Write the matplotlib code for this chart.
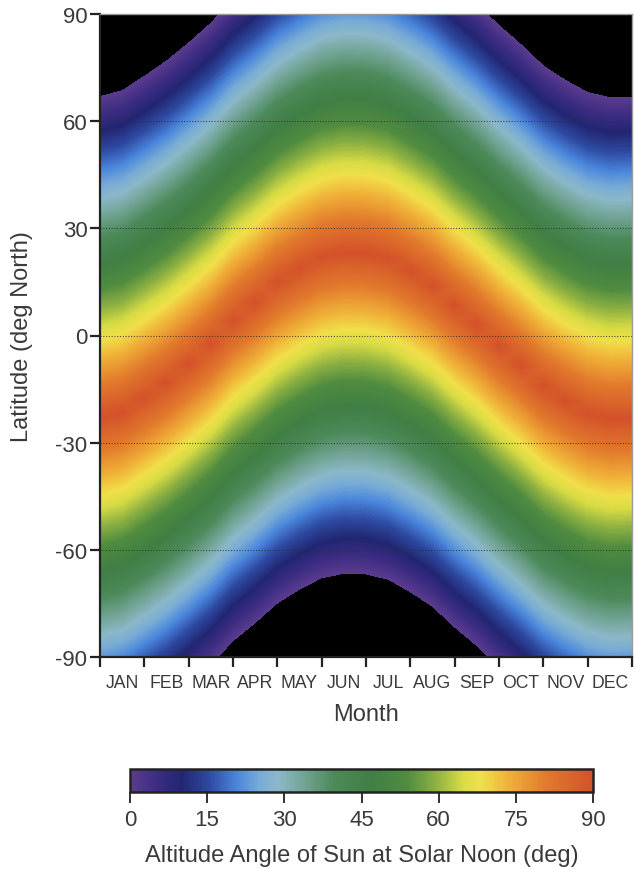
import matplotlib
matplotlib.use("Agg")
import matplotlib.pyplot as plt
import numpy as np
from matplotlib.colors import LinearSegmentedColormap

plt.rcParams['font.family'] = ['Liberation Sans', 'DejaVu Sans']
plt.rcParams['axes.unicode_minus'] = False

month_pos = [0, 0.5, 1, 1.5, 2, 2.5, 3, 3.5, 4, 4.5, 5, 5.5, 6,
             6.5, 7, 7.5, 8, 8.5, 9, 9.5, 10, 10.5, 11, 11.5, 12]
declination = [-23.0, -21.3, -17.3, -13.0, -7.9, -2.4, 4.3, 9.4, 14.9, 18.8, 22.0, 23.3, 23.1,
               21.6, 18.1, 14.0, 8.2, 3.0, -3.0, -8.4, -14.3, -18.4, -21.8, -23.3, -23.1]
latitudes = np.arange(-90, 90.25, 0.25)
months = ['JAN', 'FEB', 'MAR', 'APR', 'MAY', 'JUN', 'JUL', 'AUG', 'SEP', 'OCT', 'NOV', 'DEC']
lat_ticks = [-90, -60, -30, 0, 30, 60, 90]
cbar_ticks = [0, 15, 30, 45, 60, 75, 90]

# noon altitude for each latitude row / date column
altitude = 90 - np.abs(latitudes[:, None] - np.array(declination)[None, :])

cmap = LinearSegmentedColormap.from_list('sun', [
    (0.00, '#5b3c8e'), (0.06, '#3a2c82'), (0.11, '#222672'), (0.17, '#2e4aa2'),
    (0.23, '#4a86dc'), (0.28, '#78acd6'), (0.32, '#8cb8c8'), (0.38, '#6fa290'),
    (0.44, '#4c8a5a'), (0.52, '#407f45'), (0.60, '#508c40'), (0.66, '#8cb042'),
    (0.72, '#d8dc44'), (0.76, '#f0e04a'), (0.82, '#f0b038'), (0.90, '#e27a2c'),
    (1.00, '#d4522a')])
cmap.set_under('black')

fig = plt.figure(figsize=(6.34, 8.7), dpi=100)
ax = fig.add_axes([100 / 634, 1 - 658 / 870, 532 / 634, 643 / 870])

# columns are centred on month_pos, so extend by half a step each side
step = 0.5
im = ax.imshow(altitude, origin='lower', aspect='auto', cmap=cmap, vmin=0, vmax=90,
               extent=[month_pos[0] - step / 2, month_pos[-1] + step / 2, -90.125, 90.125],
               interpolation='bilinear', interpolation_stage='data')
ax.set_xlim(0, 12)
ax.set_ylim(-90, 90)

for lat in [-60, -30, 0, 30, 60]:
    ax.axhline(lat, color='#303030', lw=0.8, ls=(0, (1, 1.5)), alpha=0.8)

txt = '#3a3a3a'
ax.set_yticks(lat_ticks)
ax.set_yticklabels([str(v) for v in lat_ticks], fontsize=16, color=txt)
ax.set_xticks(np.arange(13))
ax.set_xticklabels([])
ax.set_xticks(np.arange(12) + 0.5, minor=True)
ax.set_xticklabels(months, minor=True, fontsize=12.7, color=txt)
ax.tick_params(axis='x', which='minor', length=0, pad=12)
ax.tick_params(axis='x', which='major', length=7, width=1.6, color='#222222')
ax.tick_params(axis='y', length=7, width=1.6, color='#222222', pad=2)
for s in ['left', 'bottom']:
    ax.spines[s].set_linewidth(1.6)
    ax.spines[s].set_color('#222222')
for s in ['top', 'right']:
    ax.spines[s].set_linewidth(1.0)
    ax.spines[s].set_color('#999999')

ax.set_xlabel('Month', fontsize=17, color=txt, labelpad=9)
ax.set_ylabel('Latitude (deg North)', fontsize=17, color=txt, labelpad=16)

cax = fig.add_axes([130 / 634, 1 - 793 / 870, 463 / 634, 23 / 870])
cb = fig.colorbar(im, cax=cax, orientation='horizontal', ticks=cbar_ticks)
cb.outline.set_linewidth(1.8)
cb.outline.set_edgecolor('#222222')
cax.tick_params(length=8, width=1.3, color='#222222', labelsize=16, labelcolor=txt, pad=4)
cax.set_xticklabels([str(v) for v in cbar_ticks])
cb.set_label('Altitude Angle of Sun at Solar Noon (deg)', fontsize=17, color=txt, labelpad=10)

fig.savefig('out.png', dpi=100)
